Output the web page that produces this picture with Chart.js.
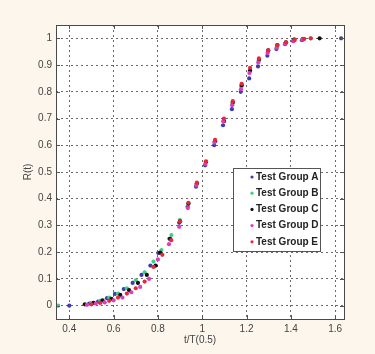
<!DOCTYPE html>
<html>
<head>
<meta charset="utf-8">
<script src="https://cdn.jsdelivr.net/npm/chart.js@4.4.1/dist/chart.umd.min.js"></script>
<style>
  html, body { margin: 0; padding: 0; background: #fcf6ec; }
  #wrap { width: 375px; height: 354px; }
</style>
</head>
<body>
<div id="wrap"><canvas id="myChart" width="375" height="354"></canvas></div>
<script>
// values
const xTicks = [0.4, 0.6, 0.8, 1, 1.2, 1.4, 1.6];
const yTicks = [0, 0.1, 0.2, 0.3, 0.4, 0.5, 0.6, 0.7, 0.8, 0.9, 1];

const groupNames = ['Test Group A', 'Test Group B', 'Test Group C', 'Test Group D', 'Test Group E'];
const groupColors = ['#3d3dad', '#3ecf86', '#111111', '#e03cc0', '#e8283a'];

const xA = [0.40, 0.49, 0.53, 0.57, 0.606, 0.646, 0.686, 0.726, 0.766, 0.802, 0.852, 0.896, 0.934, 0.972, 1.013, 1.054, 1.094, 1.134, 1.174, 1.212, 1.252, 1.294, 1.335, 1.374, 1.41, 1.45, 1.627];
const yA = [0, 0.008, 0.015, 0.028, 0.044, 0.062, 0.085, 0.115, 0.15, 0.197, 0.25, 0.31, 0.37, 0.445, 0.525, 0.6, 0.675, 0.735, 0.8, 0.85, 0.895, 0.935, 0.96, 0.978, 0.99, 0.993, 1.0];

const xB = [0.35, 0.50, 0.54, 0.58, 0.62, 0.66, 0.70, 0.74, 0.78, 0.816, 0.861, 0.899, 0.937, 0.975, 1.016, 1.057, 1.097, 1.137, 1.177, 1.215, 1.255, 1.297, 1.338, 1.376, 1.413, 1.453, 1.49];
const yB = [0, 0.01, 0.018, 0.03, 0.045, 0.065, 0.095, 0.125, 0.165, 0.208, 0.264, 0.32, 0.38, 0.455, 0.535, 0.615, 0.69, 0.755, 0.82, 0.875, 0.915, 0.95, 0.968, 0.982, 0.995, 0.998, 1.0];

const xC = [0.47, 0.51, 0.55, 0.59, 0.63, 0.67, 0.71, 0.75, 0.79, 0.81, 0.855, 0.9, 0.938, 0.976, 1.017, 1.058, 1.098, 1.138, 1.178, 1.216, 1.256, 1.298, 1.339, 1.378, 1.415, 1.455, 1.53];
const yC = [0.005, 0.01, 0.02, 0.025, 0.04, 0.058, 0.085, 0.115, 0.15, 0.198, 0.25, 0.315, 0.382, 0.458, 0.538, 0.615, 0.69, 0.76, 0.825, 0.88, 0.92, 0.955, 0.975, 0.985, 0.995, 0.997, 1.0];

const xD = [0.48, 0.52, 0.56, 0.60, 0.64, 0.68, 0.72, 0.76, 0.80, 0.85, 0.896, 0.935, 0.973, 1.014, 1.055, 1.095, 1.135, 1.175, 1.213, 1.253, 1.295, 1.336, 1.375, 1.413, 1.452];
const yD = [0.003, 0.008, 0.012, 0.02, 0.03, 0.05, 0.07, 0.1, 0.173, 0.23, 0.295, 0.365, 0.45, 0.53, 0.61, 0.69, 0.75, 0.81, 0.87, 0.91, 0.945, 0.965, 0.98, 0.99, 0.995];

const xE = [0.50, 0.54, 0.58, 0.62, 0.66, 0.70, 0.74, 0.78, 0.82, 0.86, 0.9, 0.938, 0.976, 1.017, 1.058, 1.098, 1.138, 1.178, 1.216, 1.256, 1.298, 1.34, 1.378, 1.418, 1.46, 1.49];
const yE = [0.005, 0.01, 0.018, 0.03, 0.045, 0.065, 0.09, 0.145, 0.19, 0.245, 0.315, 0.385, 0.46, 0.54, 0.62, 0.7, 0.765, 0.83, 0.89, 0.925, 0.955, 0.975, 0.985, 0.995, 0.998, 1.0];

const groupX = [xA, xB, xC, xD, xE];
const groupY = [yA, yB, yC, yD, yE];

const font = "'Liberation Sans', Arial, sans-serif";

// white plot area + dark frame + inward ticks, like the matlab figure
const frame = {
    id: 'frame',
    beforeDraw(chart) {
        const a = chart.chartArea;
        const c = chart.ctx;
        c.save();
        c.fillStyle = '#ffffff';
        c.fillRect(a.left, a.top, a.right - a.left, a.bottom - a.top);
        c.restore();
    },
    afterDatasetsDraw(chart) {
        const a = chart.chartArea;
        const c = chart.ctx;
        const xs = chart.scales.x, ys = chart.scales.y;
        c.save();
        c.strokeStyle = '#555';
        c.lineWidth = 1;
        c.beginPath();
        xTicks.forEach(v => {
            const px = Math.round(xs.getPixelForValue(v)) + 0.5;
            c.moveTo(px, a.bottom); c.lineTo(px, a.bottom - 4);
            c.moveTo(px, a.top); c.lineTo(px, a.top + 4);
        });
        yTicks.forEach(v => {
            const py = Math.round(ys.getPixelForValue(v)) + 0.5;
            c.moveTo(a.left, py); c.lineTo(a.left + 4, py);
            c.moveTo(a.right, py); c.lineTo(a.right - 4, py);
        });
        c.stroke();
        c.strokeStyle = '#4a4a4a';
        c.strokeRect(Math.round(a.left) + 0.5, Math.round(a.top) + 0.5,
            Math.round(a.right - a.left), Math.round(a.bottom - a.top));
        c.restore();
    }
};

// legend box in the lower right of the plot
const boxLegend = {
    id: 'boxLegend',
    afterDraw(chart) {
        const a = chart.chartArea;
        const c = chart.ctx;
        const left = a.left + 177, top = a.top + 143;
        const w = 87, h = 83;
        c.save();
        c.fillStyle = '#ffffff';
        c.fillRect(left, top, w, h);
        c.strokeStyle = '#555';
        c.lineWidth = 1;
        c.strokeRect(left + 0.5, top + 0.5, w, h);
        c.font = 'bold 10px ' + font;
        c.textBaseline = 'middle';
        chart.data.datasets.forEach((ds, i) => {
            const y = top + 9 + i * 16.2;
            c.fillStyle = ds.backgroundColor;
            c.beginPath();
            c.arc(left + 19, y, 1.6, 0, Math.PI * 2);
            c.fill();
            c.fillStyle = '#222';
            c.fillText(ds.label, left + 23, y);
        });
        c.restore();
    }
};

const datasets = groupNames.map((name, i) => ({
    label: name,
    data: groupX[i].map((x, j) => ({ x: x, y: groupY[i][j] })),
    backgroundColor: groupColors[i],
    borderColor: groupColors[i],
    pointRadius: 2.1,
    pointBorderWidth: 0,
    showLine: false,
    order: 5 - i
}));

const ctx = document.getElementById('myChart');
new Chart(ctx, {
    type: 'scatter',
    data: { datasets: datasets },
    options: {
        responsive: false,
        animation: false,
        layout: { padding: { left: 22, right: 31, top: 25, bottom: 8 } },
        plugins: {
            legend: { display: false },
            tooltip: { enabled: false }
        },
        scales: {
            x: {
                type: 'linear',
                min: 0.34,
                max: 1.64,
                afterBuildTicks: s => { s.ticks = xTicks.map(v => ({ value: v })); },
                afterFit: s => { s.height = 27; },
                ticks: {
                    padding: 4,
                    color: '#444',
                    font: { family: font, size: 10 },
                    maxRotation: 0,
                    callback: v => String(v)
                },
                grid: { color: '#6a6a6a', lineWidth: 1, drawTicks: false },
                border: { display: false, dash: [2, 3] },
                title: {
                    display: true,
                    text: 't/T(0.5)',
                    color: '#444',
                    font: { family: font, size: 10 },
                    padding: 0
                }
            },
            y: {
                type: 'linear',
                min: -0.05,
                max: 1.05,
                afterBuildTicks: s => { s.ticks = yTicks.map(v => ({ value: v })); },
                afterFit: s => { s.width = 34; },
                ticks: {
                    padding: 4,
                    color: '#444',
                    font: { family: font, size: 10 },
                    callback: v => String(v)
                },
                grid: { color: '#6a6a6a', lineWidth: 1, drawTicks: false },
                border: { display: false, dash: [2, 3] },
                title: {
                    display: true,
                    text: 'R(t)',
                    color: '#444',
                    font: { family: font, size: 10 },
                    padding: 0
                }
            }
        }
    },
    plugins: [frame, boxLegend]
});
</script>
</body>
</html>
